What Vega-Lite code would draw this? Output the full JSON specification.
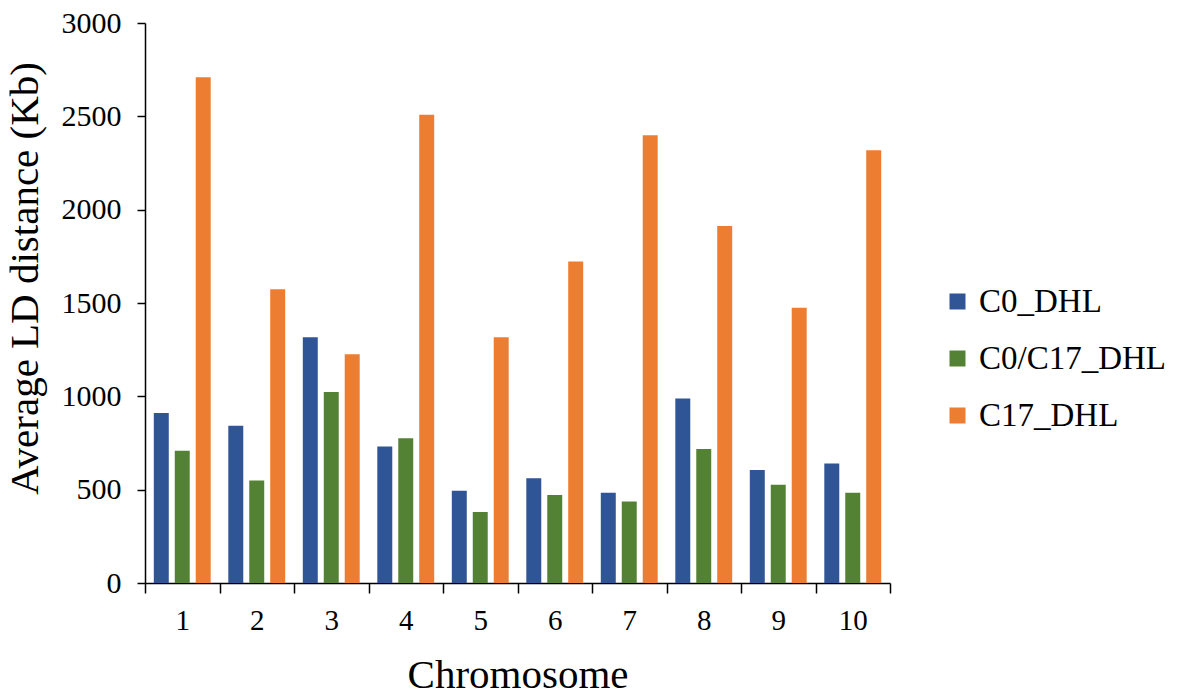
{
  "$schema": "https://vega.github.io/schema/vega-lite/v6.json",
  "width": 745,
  "height": 560,
  "autosize": "none",
  "padding": {"left": 145, "top": 23, "right": 291, "bottom": 113},
  "background": "white",
  "data": {
    "values": [
      {"chromosome": "1", "group": "C0_DHL", "ld": 911},
      {"chromosome": "1", "group": "C0/C17_DHL", "ld": 708},
      {"chromosome": "1", "group": "C17_DHL", "ld": 2710},
      {"chromosome": "2", "group": "C0_DHL", "ld": 843},
      {"chromosome": "2", "group": "C0/C17_DHL", "ld": 549},
      {"chromosome": "2", "group": "C17_DHL", "ld": 1574},
      {"chromosome": "3", "group": "C0_DHL", "ld": 1316},
      {"chromosome": "3", "group": "C0/C17_DHL", "ld": 1023},
      {"chromosome": "3", "group": "C17_DHL", "ld": 1225},
      {"chromosome": "4", "group": "C0_DHL", "ld": 731},
      {"chromosome": "4", "group": "C0/C17_DHL", "ld": 775},
      {"chromosome": "4", "group": "C17_DHL", "ld": 2508},
      {"chromosome": "5", "group": "C0_DHL", "ld": 494},
      {"chromosome": "5", "group": "C0/C17_DHL", "ld": 381},
      {"chromosome": "5", "group": "C17_DHL", "ld": 1316},
      {"chromosome": "6", "group": "C0_DHL", "ld": 561},
      {"chromosome": "6", "group": "C0/C17_DHL", "ld": 472},
      {"chromosome": "6", "group": "C17_DHL", "ld": 1722},
      {"chromosome": "7", "group": "C0_DHL", "ld": 483},
      {"chromosome": "7", "group": "C0/C17_DHL", "ld": 436},
      {"chromosome": "7", "group": "C17_DHL", "ld": 2398},
      {"chromosome": "8", "group": "C0_DHL", "ld": 989},
      {"chromosome": "8", "group": "C0/C17_DHL", "ld": 718},
      {"chromosome": "8", "group": "C17_DHL", "ld": 1913},
      {"chromosome": "9", "group": "C0_DHL", "ld": 606},
      {"chromosome": "9", "group": "C0/C17_DHL", "ld": 527},
      {"chromosome": "9", "group": "C17_DHL", "ld": 1475},
      {"chromosome": "10", "group": "C0_DHL", "ld": 640},
      {"chromosome": "10", "group": "C0/C17_DHL", "ld": 483},
      {"chromosome": "10", "group": "C17_DHL", "ld": 2318}
    ]
  },
  "mark": {"type": "bar"},
  "encoding": {
    "x": {
      "field": "chromosome",
      "type": "ordinal",
      "sort": null,
      "scale": {"paddingInner": 0, "paddingOuter": 0},
      "axis": {
        "title": "Chromosome",
        "labelAngle": 0,
        "labelFontSize": 29,
        "tickBand": "extent",
        "tickSize": 10,
        "labelPadding": 13,
        "titlePadding": 20
      }
    },
    "xOffset": {
      "field": "group",
      "sort": ["C0_DHL", "C0/C17_DHL", "C17_DHL"],
      "scale": {"paddingInner": 0.286, "paddingOuter": 0.42}
    },
    "y": {
      "field": "ld",
      "type": "quantitative",
      "scale": {"domain": [0, 3000], "nice": false},
      "axis": {
        "title": "Average LD distance (Kb)",
        "values": [0, 500, 1000, 1500, 2000, 2500, 3000],
        "format": "d",
        "grid": false,
        "labelFontSize": 30,
        "tickSize": 8,
        "labelPadding": 16,
        "titlePadding": 15,
        "titleY": 255
      }
    },
    "color": {
      "field": "group",
      "type": "nominal",
      "sort": ["C0_DHL", "C0/C17_DHL", "C17_DHL"],
      "scale": {
        "domain": ["C0_DHL", "C0/C17_DHL", "C17_DHL"],
        "range": ["#2f5597", "#548235", "#ed7d31"]
      },
      "legend": {
        "title": null,
        "orient": "none",
        "legendX": 796,
        "legendY": 262,
        "symbolType": "square",
        "symbolSize": 256,
        "symbolStrokeWidth": 0,
        "labelFontSize": 33,
        "labelFont": "Liberation Serif",
        "labelColor": "black",
        "labelLimit": 0,
        "labelOffset": 5,
        "rowPadding": 23
      }
    }
  },
  "config": {
    "view": {"stroke": null},
    "axis": {
      "domainColor": "black",
      "domainWidth": 1.5,
      "tickColor": "black",
      "tickWidth": 1.5,
      "labelFont": "Liberation Serif",
      "labelFontSize": 28,
      "labelColor": "black",
      "titleFont": "Liberation Serif",
      "titleFontSize": 41,
      "titleFontWeight": "normal",
      "titleColor": "black"
    }
  }
}
